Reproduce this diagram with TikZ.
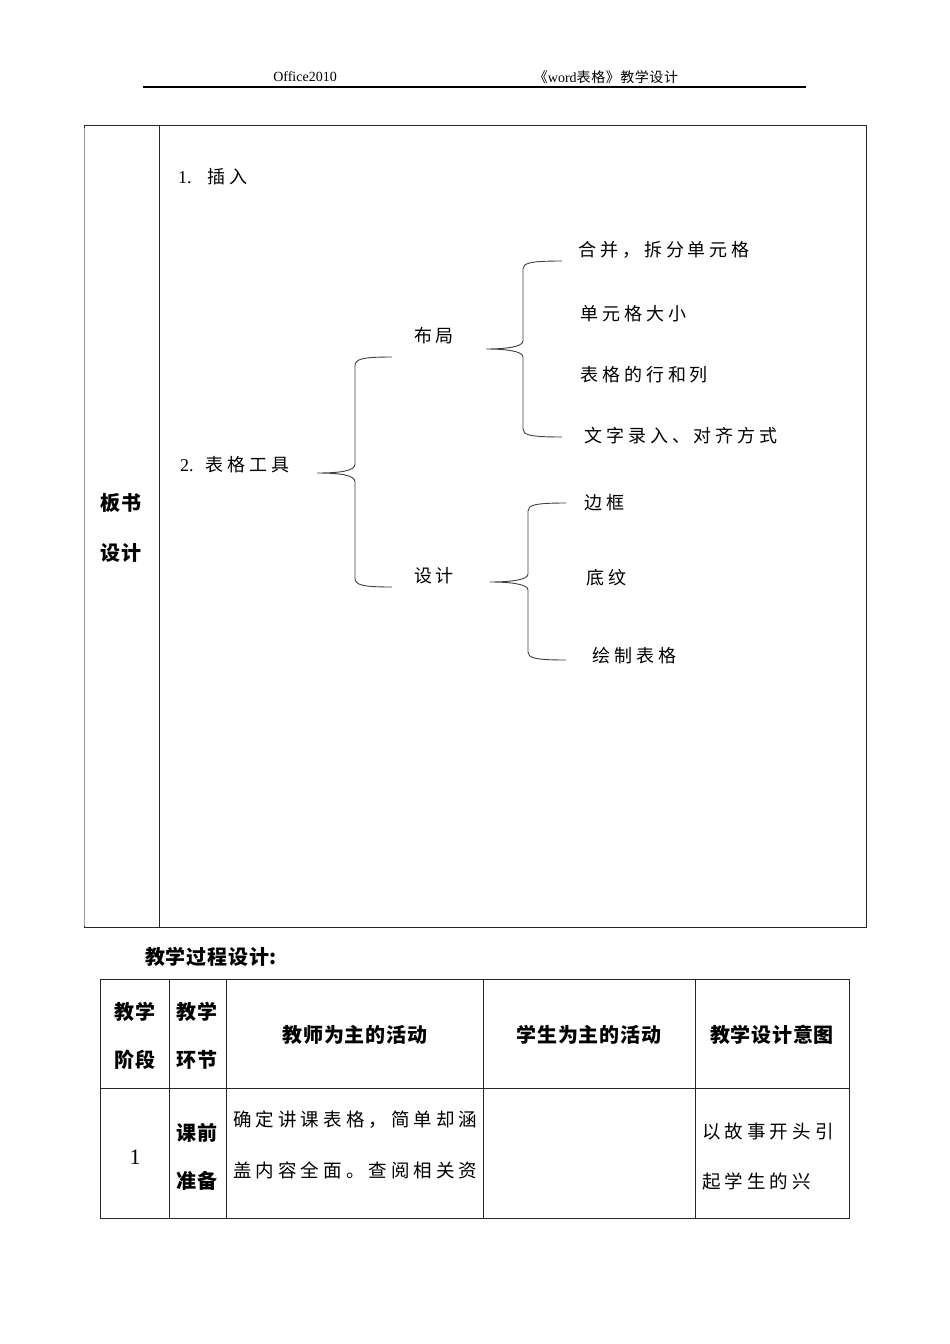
\documentclass[tikz,border=0pt]{standalone}
\usepackage{fontspec}
\setmainfont{Liberation Serif}
\newfontfamily\cjk[LetterSpace=22]{Noto Sans CJK SC}
\newfontfamily\cjkt[LetterSpace=4]{Noto Sans CJK SC}
\begin{document}
\begin{tikzpicture}[x=1pt,y=-1pt,
  txt/.style={inner sep=0pt,anchor=west,font=\fontsize{18}{20}\selectfont\cjk},
  hdr/.style={inner sep=0pt,font=\fontsize{14}{16}\selectfont},
  bold/.style={inner sep=0pt,font=\fontsize{20}{22}\selectfont\cjkt\bfseries},
  cell/.style={inner sep=0pt,anchor=west,font=\fontsize{18.5}{20}\selectfont\cjk},
  brace/.style={draw=black!75,line width=0.9pt},
  rule/.style={draw=black!85,line width=0.9pt}]
\useasboundingbox (0,0) rectangle (950,1344);
\fill[white] (0,0) rectangle (950,1344);
% header
\node[hdr] (h1) at (305,77) {Office2010};
\node[hdr] (h2) at (606,77) {{\cjkt 《}word{\cjkt 表格》教学设计}};
\draw[line width=1.6pt] (143,87) -- (806,87);
% top box
\draw[rule] (84,125) rectangle (866,927);
\draw[rule] (159,125) -- (159,927);
\draw[draw=black!40,line width=1.2pt] (84.5,128) -- (84.5,926);
\node[bold] (b1) at (121,503) {板书};
\node[bold] (b2) at (121,553) {设计};
% board content
\node[txt] (n1) at (178,177) {\rmfamily 1.\hspace{16pt}\cjk 插入};
\node[txt] (n2) at (180,465) {\rmfamily 2.\hspace{12pt}\cjk 表格工具};
\node[txt,anchor=center] (bj) at (434,336) {布局};
\node[txt,anchor=center] (sj) at (434,576) {设计};
\node[txt] (c1) at (578,250) {合并，拆分单元格};
\node[txt] (c2) at (580,314) {单元格大小};
\node[txt] (c3) at (580,375) {表格的行和列};
\node[txt] (c4) at (584,436) {文字录入、对齐方式};
\node[txt] (d1) at (584,503) {边框};
\node[txt] (d2) at (586,578) {底纹};
\node[txt] (d3) at (592,656) {绘制表格};
% brace 1
\coordinate (t1) at (317,473);
\coordinate (a1) at (392,357);
\coordinate (z1) at (392,587);
\draw[brace] (a1) .. controls (362,357) and (355,359) .. (355,366) -- (355,464)
  .. controls (355,471) and (340,473) .. (t1)
  .. controls (340,473) and (355,475) .. (355,482) -- (355,578)
  .. controls (355,585) and (362,587) .. (z1);
% brace 2
\coordinate (t2) at (486,349);
\coordinate (a2) at (562,261);
\coordinate (z2) at (562,437);
\draw[brace] (a2) .. controls (530,261) and (523,263) .. (523,269) -- (523,341)
  .. controls (523,347) and (505,349) .. (t2)
  .. controls (505,349) and (523,351) .. (523,357) -- (523,429)
  .. controls (523,435) and (530,437) .. (z2);
% brace 3
\coordinate (t3) at (490,582);
\coordinate (a3) at (566,503);
\coordinate (z3) at (566,660);
\draw[brace] (a3) .. controls (535,503) and (528,505) .. (528,511) -- (528,574)
  .. controls (528,580) and (510,582) .. (t3)
  .. controls (510,582) and (528,584) .. (528,590) -- (528,652)
  .. controls (528,658) and (535,660) .. (z3);
% lower title
\node[bold,anchor=west] (tt) at (145,957) {教学过程设计:};
% table
\draw[rule] (100,979) rectangle (849,1218);
\draw[rule] (100,1088) -- (849,1088);
\foreach \x in {169,226,483,695} \draw[rule] (\x,979) -- (\x,1218);
\node[bold] (r1a) at (135,1012) {教学};
\node[bold] (r1b) at (135,1060) {阶段};
\node[bold] (r2a) at (197,1012) {教学};
\node[bold] (r2b) at (197,1060) {环节};
\node[bold] (r3) at (355,1035) {教师为主的活动};
\node[bold] (r4) at (589,1035) {学生为主的活动};
\node[bold] (r5) at (772,1035) {教学设计意图};
\node[inner sep=0pt,font=\fontsize{22}{24}\selectfont] (one) at (135,1157) {1};
\node[bold] (k1) at (197,1133) {课前};
\node[bold] (k2) at (197,1181) {准备};
\node[cell] (e1) at (233,1120) {确定讲课表格，简单却涵};
\node[cell] (e2) at (233,1170) {盖内容全面。查阅相关资};
\node[cell] (f1) at (702,1132) {以故事开头引};
\node[cell] (f2) at (702,1181) {起学生的兴};
\end{tikzpicture}
\end{document}
